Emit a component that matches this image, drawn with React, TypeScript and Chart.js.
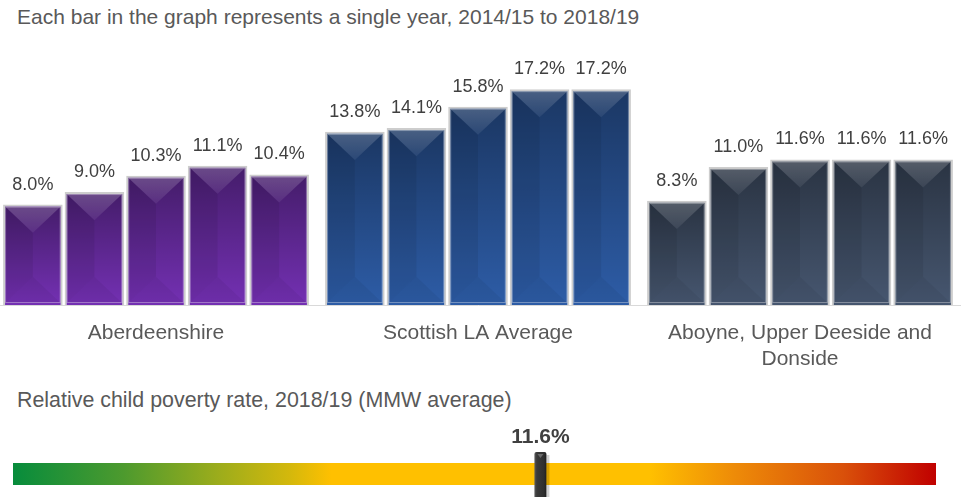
import React, { useEffect, useRef } from "react";
import { Chart, registerables } from "chart.js";

Chart.register(...registerables);

// ---- data ----
const categories: (string | string[])[] = [
  "Aberdeenshire",
  "Scottish LA Average",
  ["Aboyne, Upper Deeside and", "Donside"],
];
const years = ["2014/15", "2015/16", "2016/17", "2017/18", "2018/19"];
const aberdeenshire = [8.0, 9.0, 10.3, 11.1, 10.4];
const scottishLA = [13.8, 14.1, 15.8, 17.2, 17.2];
const aboyne = [8.3, 11.0, 11.6, 11.6, 11.6];
const markerValue = 11.6;
const scaleMin = 0;
const scaleMax = 20.3;

const titleText = "Each bar in the graph represents a single year, 2014/15 to 2018/19";
const scaleTitle = "Relative child poverty rate, 2018/19 (MMW average)";

const groupColors = ["#7330b2", "#2d5ca6", "#46566f"];
const FONT = '"Liberation Sans", Arial, Helvetica, sans-serif';

const bevelPlugin = {
  id: "bevel",
  afterDatasetsDraw(chart: any) {
    const ctx: CanvasRenderingContext2D = chart.ctx;
    chart.data.datasets.forEach((_ds: any, di: number) => {
      const meta = chart.getDatasetMeta(di);
      meta.data.forEach((el: any) => {
        const { x, y, base, width } = el.getProps(["x", "y", "base", "width"], true);
        const bw = 2;
        const L = x - width / 2 + bw;
        const R = x + width / 2 - bw;
        const T = y + bw;
        const B = base - bw;
        const w = R - L;
        const cx = (L + R) / 2;
        const d = Math.min(w * 0.47, (B - T) / 2);
        ctx.save();
        let g = ctx.createLinearGradient(0, T, 0, B);
        g.addColorStop(0, "rgba(0,0,0,0.40)");
        g.addColorStop(1, "rgba(0,0,0,0)");
        ctx.fillStyle = g;
        ctx.fillRect(L, T, w, B - T);
        // left side slightly darker
        ctx.fillStyle = "rgba(0,0,0,0.07)";
        ctx.beginPath();
        ctx.moveTo(L, T);
        ctx.lineTo(cx, T + d);
        ctx.lineTo(cx, B - d);
        ctx.lineTo(L, B);
        ctx.closePath();
        ctx.fill();
        // top triangle sheen
        g = ctx.createLinearGradient(0, T, 0, T + d);
        g.addColorStop(0, "rgba(255,255,255,0.20)");
        g.addColorStop(1, "rgba(255,255,255,0.06)");
        ctx.fillStyle = g;
        ctx.beginPath();
        ctx.moveTo(L, T);
        ctx.lineTo(R, T);
        ctx.lineTo(cx, T + d);
        ctx.closePath();
        ctx.fill();
        // bottom triangle
        ctx.fillStyle = "rgba(0,0,0,0.05)";
        ctx.beginPath();
        ctx.moveTo(L, B);
        ctx.lineTo(R, B);
        ctx.lineTo(cx, B - d);
        ctx.closePath();
        ctx.fill();
        // inner light edge
        ctx.strokeStyle = "rgba(255,255,255,0.35)";
        ctx.lineWidth = 1;
        ctx.strokeRect(L + 0.5, T + 0.5, w - 1, B - T - 1);
        ctx.restore();
      });
    });
    // value labels
    ctx.save();
    ctx.font = `18px ${FONT}`;
    ctx.fillStyle = "#404040";
    ctx.textAlign = "center";
    ctx.textBaseline = "middle";
    chart.data.datasets.forEach((ds: any, di: number) => {
      const meta = chart.getDatasetMeta(di);
      meta.data.forEach((el: any, i: number) => {
        const { x, y } = el.getProps(["x", "y"], true);
        ctx.fillText(ds.data[i].toFixed(1) + "%", x, y - 20);
      });
    });
    ctx.restore();
  },
};

const markerPlugin = {
  id: "marker",
  afterDatasetsDraw(chart: any) {
    const ctx: CanvasRenderingContext2D = chart.ctx;
    const xs = chart.scales.x;
    const px = xs.getPixelForValue(markerValue);
    const top = 32;
    const bottom = chart.height + 2;
    const hw = 6;
    ctx.save();
    ctx.fillStyle = "rgba(0,0,0,0.18)";
    ctx.fillRect(px + hw, top + 3, 3, bottom - top);
    const g = ctx.createLinearGradient(px - hw, 0, px + hw, 0);
    g.addColorStop(0, "#5a5a5a");
    g.addColorStop(0.2, "#3a3a3a");
    g.addColorStop(0.8, "#2e2e2e");
    g.addColorStop(1, "#1e1e1e");
    ctx.fillStyle = g;
    ctx.beginPath();
    ctx.moveTo(px - hw, bottom);
    ctx.lineTo(px - hw, top + 2);
    ctx.quadraticCurveTo(px - hw, top, px - hw + 2, top);
    ctx.lineTo(px + hw - 2, top);
    ctx.quadraticCurveTo(px + hw, top, px + hw, top + 2);
    ctx.lineTo(px + hw, bottom);
    ctx.closePath();
    ctx.fill();
    ctx.fillStyle = "#6a6a6a";
    ctx.beginPath();
    ctx.moveTo(px - 3, top + 2);
    ctx.lineTo(px + 3, top + 2);
    ctx.lineTo(px, top + 6);
    ctx.closePath();
    ctx.fill();
    ctx.font = `bold 21px ${FONT}`;
    ctx.fillStyle = "#404040";
    ctx.textAlign = "center";
    ctx.textBaseline = "middle";
    ctx.fillText(markerValue.toFixed(1) + "%", px, 17);
    ctx.restore();
  },
};

export default function App() {
  const barRef = useRef<HTMLCanvasElement>(null);
  const scaleRef = useRef<HTMLCanvasElement>(null);

  useEffect(() => {
    Chart.defaults.font.family = FONT;
    const series = [aberdeenshire, scottishLA, aboyne];
    const bar = new Chart(barRef.current!, {
      type: "bar",
      data: {
        labels: categories as any,
        datasets: years.map((yr, i) => ({
          label: yr,
          data: series.map((s) => s[i]),
          backgroundColor: groupColors,
          borderColor: "#cdcdcd",
          borderWidth: 2,
          categoryPercentage: 0.956,
          barPercentage: 0.968,
        })),
      },
      options: {
        animation: false,
        responsive: true,
        maintainAspectRatio: false,
        layout: { padding: { top: 54, bottom: 0, left: 0, right: 0 } },
        plugins: { legend: { display: false }, tooltip: { enabled: false } },
        scales: {
          y: { display: false, min: 0, max: 20 },
          x: {
            grid: { display: false, drawTicks: false },
            border: { display: true, color: "#d9d9d9", width: 1 },
            ticks: { color: "#595959", font: { size: 21, family: FONT }, padding: 16, maxRotation: 0, autoSkip: false },
            afterFit: (s: any) => {
              s.height = 75;
            },
          },
        },
      },
      plugins: [bevelPlugin],
    });

    const scale = new Chart(scaleRef.current!, {
      type: "bar",
      data: {
        labels: ["rate"],
        datasets: [
          {
            data: [[scaleMin, scaleMax]] as any,
            backgroundColor: (c: any) => {
              const ca = c.chart.chartArea;
              if (!ca) return "#ffc000";
              const g = c.chart.ctx.createLinearGradient(ca.left, 0, ca.right, 0);
              g.addColorStop(0, "#078c3c");
              g.addColorStop(0.12, "#4d9a2e");
              g.addColorStop(0.22, "#9aac1c");
              g.addColorStop(0.3, "#d4b80c");
              g.addColorStop(0.345, "#ffc000");
              g.addColorStop(0.69, "#ffc000");
              g.addColorStop(0.78, "#ee8c08");
              g.addColorStop(0.9, "#d9500a");
              g.addColorStop(1, "#c00000");
              return g;
            },
            borderWidth: 0,
            barPercentage: 1,
            categoryPercentage: 1,
          },
        ],
      },
      options: {
        indexAxis: "y",
        animation: false,
        responsive: true,
        maintainAspectRatio: false,
        layout: { padding: { left: 13, right: 28, top: 43, bottom: 12 } },
        plugins: { legend: { display: false }, tooltip: { enabled: false } },
        scales: {
          x: { display: false, min: scaleMin, max: scaleMax },
          y: { display: false },
        },
      },
      plugins: [markerPlugin],
    });

    return () => {
      bar.destroy();
      scale.destroy();
    };
  }, []);

  return (
    <div style={{ position: "absolute", left: 0, top: 0, width: 964, height: 497, background: "#fff", overflow: "hidden", fontFamily: FONT }}>
      <div style={{ position: "absolute", left: 17, top: 5, fontSize: 21, lineHeight: "24px", color: "#595959", whiteSpace: "nowrap" }}>
        {titleText}
      </div>
      <div style={{ position: "absolute", left: -5, top: 0, width: 966, height: 380 }}>
        <canvas ref={barRef} />
      </div>
      <div style={{ position: "absolute", left: 17, top: 388, fontSize: 21.4, lineHeight: "24px", color: "#595959", whiteSpace: "nowrap" }}>
        {scaleTitle}
      </div>
      <div style={{ position: "absolute", left: 0, top: 420, width: 964, height: 77 }}>
        <canvas ref={scaleRef} />
      </div>
    </div>
  );
}
